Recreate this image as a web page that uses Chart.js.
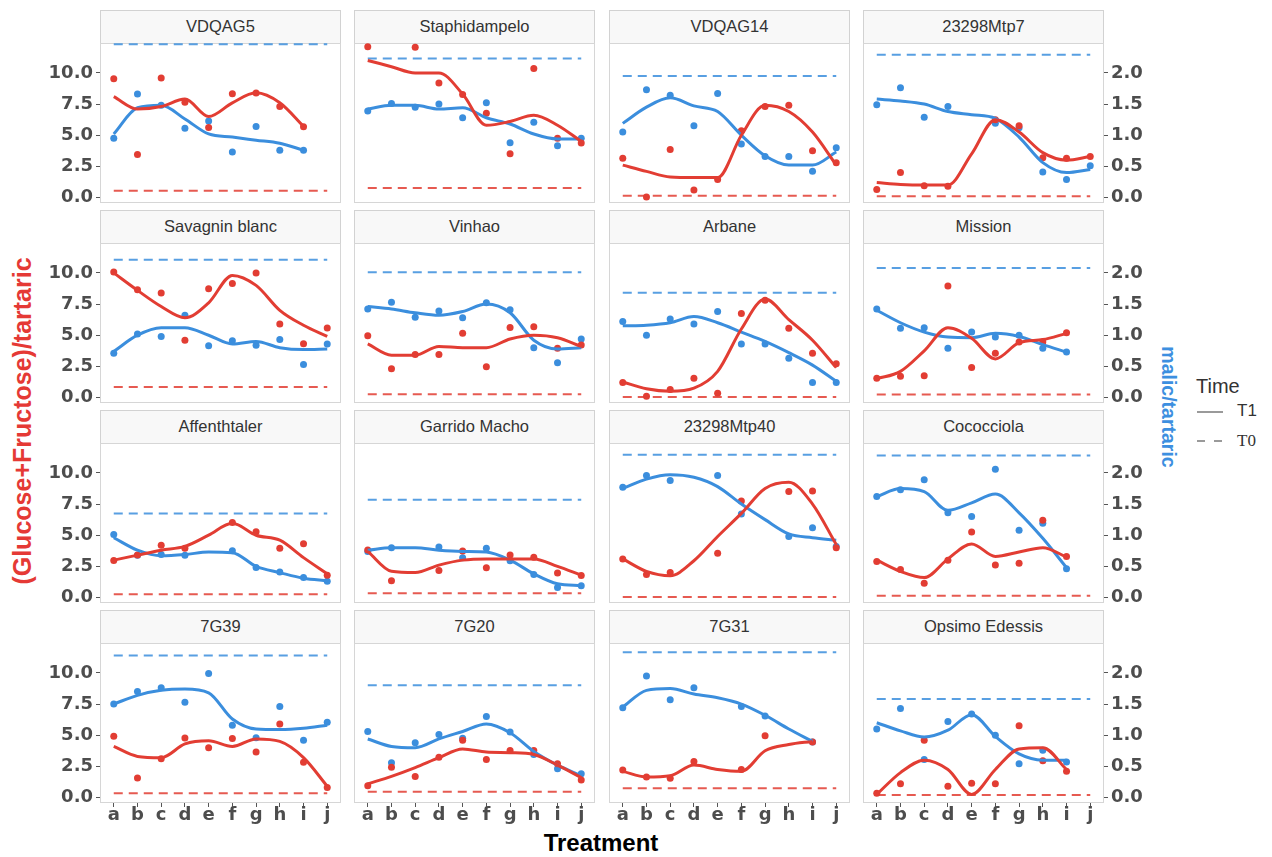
<!DOCTYPE html>
<html>
<head>
<meta charset="utf-8">
<script src="https://cdn.jsdelivr.net/npm/chart.js@4.4.0/dist/chart.umd.min.js"></script>
<style>
  body { margin: 0; width: 1272px; height: 857px; position: relative; overflow: hidden; background: #fff;
         font-family: "Liberation Sans", Arial, sans-serif; }
  canvas { position: absolute; }
  .strip { position: absolute; box-sizing: border-box; border: 1px solid #d2d2d2; background: #f8f8f8;
           color: #333; font-size: 16.5px; text-align: center; line-height: 31px; white-space: nowrap; }
  .title { position: absolute; font-weight: bold; white-space: nowrap; transform-origin: center; }
  .leg { position: absolute; color: #333; white-space: nowrap; }
</style>
</head>
<body>
<div class="title" style="left:22px;top:421px;color:#E53935;font-size:25px;transform:translate(-50%,-50%) rotate(-90deg);">(Glucose+Fructose)/tartaric</div>
<div class="title" style="left:1168px;top:407px;color:#3D8FE0;font-size:19.5px;transform:translate(-50%,-50%) rotate(90deg);">malic/tartaric</div>
<div class="title" style="left:601px;top:843px;color:#000;font-size:24px;transform:translate(-50%,-50%);">Treatment</div>
<div class="leg" style="left:1196px;top:375px;font-size:20px;">Time</div>
<div class="leg" style="left:1197px;top:411px;width:26px;height:1.5px;background:#9a9a9a;"></div>
<div class="leg" style="left:1237px;top:401px;font-size:17px;">T1</div>
<div class="leg" style="left:1197px;top:440px;width:26px;height:1.5px;background:linear-gradient(to right,#9a9a9a 0 8px,transparent 8px 17px,#9a9a9a 17px 25px,transparent 25px);"></div>
<div class="leg" style="left:1237px;top:431px;font-size:17px;font-family:'Liberation Serif',serif;">T0</div>
<script>
const treatments = ['a', 'b', 'c', 'd', 'e', 'f', 'g', 'h', 'i', 'j'];
const varieties = ['VDQAG5', 'Staphidampelo', 'VDQAG14', '23298Mtp7',
  'Savagnin blanc', 'Vinhao', 'Arbane', 'Mission',
  'Affenthtaler', 'Garrido Macho', '23298Mtp40', 'Cococciola',
  '7G39', '7G20', '7G31', 'Opsimo Edessis'];

// (Glucose+Fructose)/tartaric at T1, one row per variety (left axis)
const sugarT1 = [
  [9.54, 3.46, 9.59, 7.65, 5.62, 8.32, 8.38, 7.3, 5.68, null],
  [12.1, null, 12.05, 9.19, 8.27, 6.76, 3.51, 10.35, 4.76, 4.38],
  [3.15, 0.05, 3.85, 0.6, 1.45, 5.35, 7.3, 7.4, 3.75, 2.8],
  [0.65, 2.0, 0.95, 0.9, null, 6.25, 5.75, 3.2, 3.15, 3.3],
  [10.08, 8.65, 8.38, 4.59, 8.73, 9.14, 10.0, 5.89, 4.32, 5.57],
  [4.95, 2.3, 3.46, 3.46, 5.16, 2.46, 5.62, 5.68, 3.95, 4.22],
  [1.2, 0.1, 0.65, 1.55, 0.35, 6.75, 7.8, 5.55, 3.55, 2.7],
  [1.55, 1.7, 1.75, 8.95, 2.4, 3.55, 4.45, 4.45, 5.2, null],
  [2.97, 3.41, 4.19, 3.95, null, 6.03, 5.27, 3.95, 4.32, 1.78],
  [3.81, 1.35, null, 2.16, 3.73, 2.38, 3.41, 3.24, 1.97, 1.76],
  [3.1, 1.85, 2.0, null, 3.55, 7.75, null, 8.5, 8.55, 4.0],
  [2.9, 2.25, 1.15, 3.0, 5.25, 2.6, 2.75, 6.2, 3.3, null],
  [4.92, 1.57, 3.11, 4.78, 4.0, 4.73, 3.65, 5.89, 2.84, 0.81],
  [0.95, 2.43, 1.68, 3.24, 4.59, 3.05, 3.78, 3.78, 2.7, 1.41],
  [2.2, 1.65, 1.55, 2.9, null, 2.25, 4.95, null, 4.45, null],
  [0.35, 1.1, 4.6, 0.9, 1.15, 1.1, 5.75, 2.95, 2.1, null]
];
// smoothed T1 curve at each treatment
const sugarFit = [
  [8.1, 7.1, 7.3, 7.9, 6.5, 7.6, 8.4, 7.6, 5.7, null],
  [11.0, 10.5, 10.0, 10.0, 8.3, 5.8, 6.1, 6.6, 5.8, 4.5],
  [2.6, 2.1, 1.65, 1.6, 1.6, 5.0, 7.4, 6.9, 5.25, 2.6],
  [1.2, 1.05, 1.0, 1.0, 3.5, 6.25, 5.25, 3.6, 3.0, 3.3],
  [10.0, 8.6, 7.3, 6.4, 7.6, 9.8, 9.0, 7.0, 5.8, 4.9],
  [4.3, 3.4, 3.4, 4.1, 4.0, 4.0, 4.7, 5.0, 4.8, 4.1],
  [1.25, 0.7, 0.5, 0.75, 2.1, 5.5, 7.9, 6.25, 4.6, 2.4],
  [1.5, 2.1, 3.75, 5.6, 4.75, 3.1, 4.4, 4.65, 5.15, null],
  [3.0, 3.4, 3.8, 4.1, 5.0, 5.95, 5.0, 4.6, 3.2, 1.9],
  [3.7, 2.1, 2.0, 2.6, 3.0, 3.1, 3.1, 3.1, 2.5, 1.8],
  [3.1, 2.1, 1.75, 2.95, 4.9, 6.75, 8.75, 9.25, 7.5, 4.25],
  [3.0, 2.1, 1.6, 3.1, 4.3, 3.3, 3.65, 4.0, 3.25, null],
  [4.1, 3.3, 3.2, 4.3, 4.55, 4.1, 4.7, 4.5, 3.2, 0.9],
  [1.1, 1.7, 2.4, 3.2, 3.9, 3.65, 3.6, 3.45, 2.6, 1.6],
  [2.1, 1.65, 1.75, 2.6, 2.25, 2.1, 3.75, 4.25, 4.5, null],
  [0.25, 2.0, 3.0, 2.25, 0.25, 2.25, 3.9, 4.0, 2.25, null]
];
// malic/tartaric at T1 (right axis)
const malicT1 = [
  [0.95, 1.66, 1.48, 1.11, 1.23, 0.73, 1.14, 0.76, 0.76, null],
  [1.39, 1.51, 1.45, 1.5, 1.28, 1.52, 0.88, 1.21, 0.83, 0.95],
  [1.05, 1.73, 1.64, 1.15, 1.67, 0.86, 0.66, 0.66, 0.42, 0.8],
  [1.49, 1.76, 1.29, 1.46, null, 1.19, 1.12, 0.41, 0.29, 0.51],
  [0.71, 1.02, 0.98, 1.32, 0.83, 0.91, 0.84, 0.93, 0.53, 0.86],
  [1.42, 1.53, 1.29, 1.39, 1.28, 1.52, 1.41, 0.8, 0.56, 0.94],
  [1.22, 1.0, 1.26, 1.18, 1.38, 0.86, 0.86, 0.63, 0.24, 0.24],
  [1.42, 1.11, 1.12, 0.79, 1.05, 0.97, 1.0, 0.79, 0.73, null],
  [1.01, 0.68, 0.69, 0.68, null, 0.75, 0.48, 0.41, 0.32, 0.26],
  [0.74, 0.8, null, 0.81, 0.64, 0.79, 0.59, 0.37, 0.16, 0.19],
  [1.77, 1.96, 1.88, null, 1.96, 1.34, null, 0.98, 1.12, 0.82],
  [1.62, 1.73, 1.89, 1.36, 1.3, 2.06, 1.08, 1.19, 0.46, null],
  [1.5, 1.7, 1.76, 1.53, 1.99, 1.16, 0.96, 1.46, 0.92, 1.21],
  [1.06, 0.56, 0.88, 1.01, 0.95, 1.3, 1.05, 0.69, 0.46, 0.38],
  [1.44, 1.95, 1.57, 1.76, null, 1.46, 1.31, null, 0.89, null],
  [1.1, 1.43, 0.61, 1.22, 1.34, 1.0, 0.54, 0.76, 0.57, null]
];
const malicFit = [
  [1.02, 1.44, 1.48, 1.26, 1.02, 0.97, 0.92, 0.87, 0.76, null],
  [1.42, 1.48, 1.48, 1.42, 1.44, 1.28, 1.18, 1.02, 0.94, 0.94],
  [1.19, 1.45, 1.6, 1.47, 1.38, 1.0, 0.67, 0.52, 0.52, 0.73],
  [1.58, 1.55, 1.5, 1.38, 1.33, 1.27, 0.97, 0.56, 0.4, 0.45],
  [0.74, 1.0, 1.12, 1.12, 1.0, 0.86, 0.9, 0.8, 0.77, 0.78],
  [1.46, 1.42, 1.36, 1.32, 1.38, 1.5, 1.36, 0.92, 0.78, 0.8],
  [1.15, 1.16, 1.2, 1.3, 1.2, 1.05, 0.9, 0.72, 0.52, 0.26],
  [1.4, 1.2, 1.05, 0.97, 0.96, 1.03, 0.98, 0.85, 0.73, null],
  [0.96, 0.76, 0.67, 0.69, 0.73, 0.72, 0.5, 0.4, 0.31, 0.27],
  [0.76, 0.8, 0.8, 0.76, 0.74, 0.73, 0.6, 0.38, 0.22, 0.19],
  [1.75, 1.9, 1.97, 1.93, 1.78, 1.5, 1.25, 1.02, 0.96, 0.92],
  [1.62, 1.75, 1.7, 1.4, 1.52, 1.66, 1.36, 0.95, 0.48, null],
  [1.5, 1.64, 1.72, 1.74, 1.68, 1.26, 1.1, 1.09, 1.11, 1.16],
  [0.94, 0.82, 0.8, 0.94, 1.06, 1.18, 1.04, 0.74, 0.52, 0.35],
  [1.45, 1.72, 1.75, 1.66, 1.6, 1.5, 1.32, 1.1, 0.9, null],
  [1.2, 1.07, 0.97, 1.08, 1.33, 0.98, 0.7, 0.6, 0.6, null]
];
// T0 reference levels (dashed)
const sugarT0 = [0.54, 0.76, 0.15, 0.1, 0.84, 0.27, 0.05, 0.25, 0.27, 0.35, 0.05, 0.15, 0.35, 0.46, 0.75, 0.2];
const malicT0 = [2.46, 2.23, 1.95, 2.29, 2.21, 2.01, 1.68, 2.08, 1.35, 1.57, 2.29, 2.28, 2.28, 1.8, 2.33, 1.58];

const leftTicks = [0, 2.5, 5, 7.5, 10];
const rightTicks = [0, 0.5, 1, 1.5, 2];

const red = '#E23D33', blue = '#3B8EDD';
const redDash = 'rgba(226,61,51,0.85)', blueDash = 'rgba(59,142,221,0.85)';
const tickColor = '#4d4d4d';
const tickFont = { family: '"DejaVu Sans", sans-serif', size: 18, weight: 'bold' };

const colX = [100, 354, 609, 863];
const rowY = [43, 243, 443, 643];
const plotW = 241, plotH = 160, axisL = 60, axisR = 50, axisB = 45;

const panelFrame = {
  id: 'panelFrame',
  beforeDatasetsDraw(chart) {
    const a = chart.chartArea, ctx = chart.ctx;
    ctx.save();
    ctx.strokeStyle = '#d6d6d6';
    ctx.lineWidth = 1;
    ctx.strokeRect(a.left + 0.5, a.top + 0.5, a.right - a.left - 1, a.bottom - a.top - 1);
    ctx.restore();
  }
};

function toXY(arr) {
  return arr.map((v, i) => v == null ? null : { x: i, y: v }).filter(p => p);
}

function noPad(s) {
  s.paddingTop = 0; s.paddingBottom = 0; s.paddingLeft = 0; s.paddingRight = 0;
}

varieties.forEach((name, k) => {
  const r = Math.floor(k / 4), c = k % 4;
  const showLeft = c === 0, showRight = c === 3, showX = r === 3;

  const strip = document.createElement('div');
  strip.className = 'strip';
  strip.style.left = colX[c] + 'px';
  strip.style.top = (rowY[r] - 33) + 'px';
  strip.style.width = plotW + 'px';
  strip.style.height = '34px';
  strip.textContent = name;
  document.body.appendChild(strip);

  const cv = document.createElement('canvas');
  cv.width = axisL + plotW + axisR;
  cv.height = plotH + axisB;
  cv.style.left = (colX[c] - axisL) + 'px';
  cv.style.top = rowY[r] + 'px';
  document.body.appendChild(cv);

  new Chart(cv, {
    type: 'line',
    data: {
      datasets: [
        { data: [{ x: 0, y: sugarT0[k] }, { x: 9, y: sugarT0[k] }], yAxisID: 'y',
          borderColor: redDash, borderWidth: 2, borderDash: [9, 6], pointRadius: 0, order: 3 },
        { data: [{ x: 0, y: malicT0[k] }, { x: 9, y: malicT0[k] }], yAxisID: 'y2',
          borderColor: blueDash, borderWidth: 2, borderDash: [9, 6], pointRadius: 0, order: 3 },
        { data: toXY(sugarT1[k]), yAxisID: 'y', showLine: false, pointRadius: 3.5,
          pointBackgroundColor: red, pointBorderWidth: 0, order: 2, clip: 6 },
        { data: toXY(malicT1[k]), yAxisID: 'y2', showLine: false, pointRadius: 3.5,
          pointBackgroundColor: blue, pointBorderWidth: 0, order: 2, clip: 6 },
        { data: toXY(sugarFit[k]), yAxisID: 'y', borderColor: red, borderWidth: 3,
          pointRadius: 0, cubicInterpolationMode: 'monotone', order: 1 },
        { data: toXY(malicFit[k]), yAxisID: 'y2', borderColor: blue, borderWidth: 3,
          pointRadius: 0, cubicInterpolationMode: 'monotone', order: 1 }
      ]
    },
    options: {
      responsive: false,
      animation: false,
      layout: { padding: 0, autoPadding: false },
      plugins: { legend: { display: false }, tooltip: { enabled: false } },
      scales: {
        x: {
          type: 'linear', min: -0.58, max: 9.58,
          afterBuildTicks: s => { s.ticks = treatments.map((t, i) => ({ value: i })); },
          ticks: { callback: v => treatments[v], color: showX ? tickColor : 'transparent',
                   font: tickFont, padding: -2, maxRotation: 0, autoSkip: false },
          grid: { drawOnChartArea: false, tickLength: 4, color: showX ? '#555' : 'transparent' },
          border: { display: false },
          afterFit: s => { s.height = axisB; noPad(s); }
        },
        y: {
          position: 'left', min: -0.44, max: 12.4,
          afterBuildTicks: s => { s.ticks = leftTicks.map(v => ({ value: v })); },
          ticks: { callback: v => v.toFixed(1), color: showLeft ? tickColor : 'transparent',
                   font: tickFont, padding: 3 },
          grid: { drawOnChartArea: false, tickLength: 4, color: showLeft ? '#555' : 'transparent' },
          border: { display: false },
          afterFit: s => { s.width = axisL; noPad(s); }
        },
        y2: {
          position: 'right', min: -0.088, max: 2.48,
          afterBuildTicks: s => { s.ticks = rightTicks.map(v => ({ value: v })); },
          ticks: { callback: v => v.toFixed(1), color: showRight ? tickColor : 'transparent',
                   font: tickFont, padding: 3 },
          grid: { drawOnChartArea: false, tickLength: 4, color: showRight ? '#555' : 'transparent' },
          border: { display: false },
          afterFit: s => { s.width = axisR; noPad(s); }
        }
      }
    },
    plugins: [panelFrame]
  });
});
</script>
</body>
</html>
